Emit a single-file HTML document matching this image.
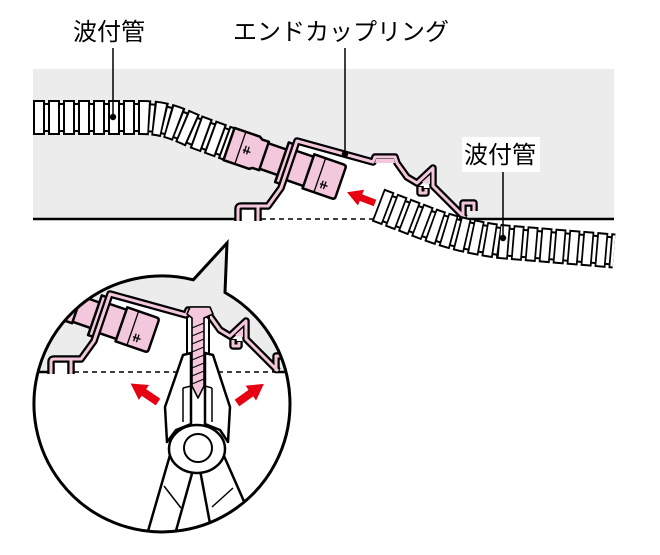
<!DOCTYPE html>
<html><head><meta charset="utf-8"><style>html,body{margin:0;padding:0;background:#fff}svg{display:block}</style></head>
<body>
<svg width="660" height="555" viewBox="0 0 660 555" xmlns="http://www.w3.org/2000/svg" font-family="'Liberation Sans','Noto Sans CJK JP',sans-serif">
<defs>
  <g id="bg">
    <rect x="33" y="69" width="581" height="150" fill="#ececec"/>
    <path d="M238,219 V206 H268 L281,188 L297,141 L373,162 L397,163 L407,177 L417,183 L433,186 L466,219 Z" fill="#fff"/>
    <line x1="261" y1="219" x2="464" y2="219" stroke="#000" stroke-width="1.5" stroke-dasharray="5 4"/>
    <line x1="33" y1="219" x2="239" y2="219" stroke="#000" stroke-width="2.5"/>
    <line x1="463" y1="219" x2="614" y2="219" stroke="#000" stroke-width="2.5"/>
  </g>
  <g id="fg">
    <g transform="translate(229,144) rotate(19)" fill="#f4c8dc" stroke="#000" stroke-width="2.5" stroke-linejoin="round">
      <rect x="34" y="-13.5" width="26" height="27"/>
      <path d="M0,-17 H27 L30,-15 H37 V15 H30 L27,17 H0 Z"/>
      <rect x="56" y="-21" width="5" height="42"/>
      <rect x="65" y="-15.5" width="20" height="31"/>
      <path d="M84,-18 H115 Q118,-18 118,-15 V15 Q118,18 115,18 H84 Z"/>
      <g fill="none" stroke-width="1.3">
        <path d="M12,-17 V17 M96,-18 V18 M17,-4 v8 M20,-4 v8 M15,1 h8 M101,4 v8 M104,4 v8 M99,8 h8"/>
      </g>
    </g>
    <g fill="none" stroke-linejoin="round">
      <g stroke="#000" stroke-width="7.5">
        <path d="M238,221 V209 Q238,206 241,206 H268 L281,188 L297,141 L373,162 L375,157 H395 L397,163 L407,177 L417,183 L433,168 V186 L465,218"/>
        <path d="M258,206 V221"/>
        <path d="M463,219 V203 H474 V211"/>
        <path d="M420,186 V193 H426 V188"/>
      </g>
      <polygon points="376,159 394,159 395,163 375,163" fill="#f4c8dc"/>
      <polygon points="422,182 430,175 430,184" fill="#f4c8dc"/>
      <g stroke="#f4c8dc" stroke-width="3">
        <path d="M238,221 V209 Q238,206 241,206 H268 L281,188 L297,141 L373,162 L375,157 H395 L397,163 L407,177 L417,183 L433,168 V186 L465,218"/>
        <path d="M258,207 V221"/>
        <path d="M463,218 V203 H474 V211"/>
        <path d="M420,187 V193 H426 V189"/>
      </g>
    </g>
  </g>
  <clipPath id="cc"><path d="M193.3,279.8 L227,243 L225,292.5 A128,128 0 1 1 193.3,279.8 Z"/></clipPath>
</defs>

<!-- MAIN -->
<use href="#bg"/>
<!-- left pipe -->
<g fill="none">
  <path d="M33,117.5 L142,117.5 C165,117.5 178,124 195,131.5 L232,145" stroke="#000" stroke-width="29"/>
  <path d="M33,117.5 L142,117.5 C165,117.5 178,124 195,131.5 L232,145" stroke="#fff" stroke-width="25"/>
  <path d="M33,117.5 L142,117.5 C165,117.5 178,124 195,131.5 L232,145" stroke="#000" stroke-width="35" stroke-dasharray="12 3"/>
  <path d="M33,117.5 L142,117.5 C165,117.5 178,124 195,131.5 L232,145" stroke="#fff" stroke-width="31" stroke-dasharray="8 7" stroke-dashoffset="-2"/>
</g>
<use href="#fg"/>
<!-- right pipe -->
<g fill="none">
  <path d="M378,205 L428,224 Q460,236 500,241.5 L614,251" stroke="#000" stroke-width="29"/>
  <path d="M378,205 L428,224 Q460,236 500,241.5 L614,251" stroke="#fff" stroke-width="25"/>
  <path d="M378,205 L428,224 Q460,236 500,241.5 L614,251" stroke="#000" stroke-width="35" stroke-dasharray="11 3"/>
  <path d="M378,205 L428,224 Q460,236 500,241.5 L614,251" stroke="#fff" stroke-width="31" stroke-dasharray="7.5 6.5" stroke-dashoffset="-1.75"/>
</g>
<!-- main arrow -->
<polygon points="0,-3.5 15,-3.5 15,-8.5 30,0 15,8.5 15,3.5 0,3.5" fill="#e60012" transform="translate(375,203) rotate(201)"/>

<!-- leaders & labels -->
<g stroke="#000" stroke-width="1.5">
  <line x1="113" y1="48" x2="113" y2="117"/>
  <line x1="345" y1="48" x2="345" y2="154"/>
  <line x1="503" y1="172" x2="503" y2="238"/>
</g>
<g fill="#000">
  <circle cx="113" cy="117" r="3.2"/>
  <circle cx="345" cy="154" r="3.2"/>
  <circle cx="503" cy="238" r="3.2"/>
</g>
<rect x="462" y="137" width="78" height="35" fill="#fff"/>
<g font-size="24" fill="#000">
  <text x="73" y="40">波付管</text>
  <text x="233" y="40">エンドカップリング</text>
  <text x="464" y="163">波付管</text>
</g>

<!-- CIRCLE DETAIL -->
<g clip-path="url(#cc)">
  <rect x="0" y="230" width="340" height="330" fill="#fff"/>
  <g transform="translate(-187,153)">
    <use href="#bg"/>
    <use href="#fg"/>
  </g>
  <g stroke="#000" stroke-width="2">
    <line x1="187" y1="316" x2="187" y2="372"/>
    <line x1="209" y1="316" x2="209" y2="372"/>
  </g>
  <path d="M187,314 L190,307 L210,307 L213,314 L204,318 L204,386 L198,398 L192,386 L192,318 Z" fill="#f4c8dc" stroke="#000" stroke-width="1.6" stroke-linejoin="round"/>
  <g stroke="#000" stroke-width="1.1">
    <line x1="192" y1="328" x2="204" y2="323"/>
    <line x1="192" y1="336" x2="204" y2="331"/>
    <line x1="192" y1="344" x2="204" y2="339"/>
    <line x1="192" y1="352" x2="204" y2="347"/>
    <line x1="192" y1="360" x2="204" y2="355"/>
    <line x1="192" y1="368" x2="204" y2="363"/>
    <line x1="192" y1="376" x2="204" y2="371"/>
    <line x1="192" y1="384" x2="204" y2="379"/>
  </g>
  <polygon points="0,-4 17,-4 17,-9 33,0 17,9 17,4 0,4" fill="#e60012" transform="translate(158,402) rotate(214)"/>
  <polygon points="0,-4 17,-4 17,-9 33,0 17,9 17,4 0,4" fill="#e60012" transform="translate(237,403) rotate(-35.5)"/>
  <g fill="#fff" stroke="#000" stroke-width="2.5" stroke-linejoin="round">
    <polygon points="170,455 193,470 172,545 144,545"/>
    <polygon points="200,470 224,456 250,515 214,545"/>
    <polygon points="183,355 191,353 191,424 176,430 167,442 165,407"/>
    <polygon points="205,353 213,355 230,407 228,442 220,430 205,424"/>
    <ellipse cx="197" cy="449" rx="28" ry="24"/>
    <circle cx="198" cy="448" r="14" stroke-width="2"/>
  </g>
  <g stroke="#000" stroke-width="1.5" fill="none">
    <path d="M183,388 V422 M183,388 L191,386 M212,388 V422 M212,388 L205,386"/>
    <line x1="164" y1="486" x2="181" y2="508"/>
    <line x1="233" y1="488" x2="212" y2="507"/>
  </g>
</g>
<path d="M193.3,279.8 L227,243 L225,292.5 A128,128 0 1 1 193.3,279.8 Z" fill="none" stroke="#000" stroke-width="3" stroke-linejoin="miter"/>
</svg>
</body></html>
